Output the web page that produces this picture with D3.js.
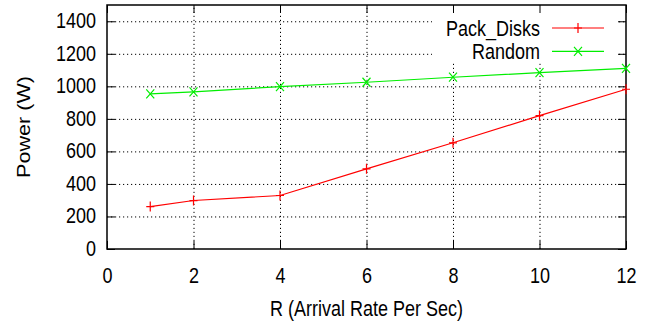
<!DOCTYPE html>
<html>
<head>
  <meta charset="utf-8">
  <title>Power vs Arrival Rate</title>
  <script src="https://d3js.org/d3.v7.min.js"></script>
  <style>
    body { margin: 0; background: #fff; }
    text { font-family: 'Liberation Sans', Arial, sans-serif; font-size: 18px; fill: #000; }
    .grid line { stroke: #000; stroke-width: 1; stroke-dasharray: 1.2, 2.8; }
    .grid path { display: none; }
    .axis line { stroke: #000; stroke-width: 1; }
    .axis path { display: none; }
  </style>
</head>
<body>
  <div id="chart"></div>
  <script>
    // data
    const rates = [1, 2, 4, 6, 8, 10, 12];
    const packDisks = [261, 298, 329, 493, 653, 820, 982];
    const random = [954, 966, 998, 1025, 1056, 1084, 1111];
    const xTicks = [0, 2, 4, 6, 8, 10, 12];
    const yTicks = [0, 200, 400, 600, 800, 1000, 1200, 1400];
    const seriesNames = ["Pack_Disks", "Random"];

    const W = 649, H = 324;
    const margin = { top: 5, right: 23, bottom: 75, left: 107 };
    const width = W - margin.left - margin.right,
      height = H - margin.top - margin.bottom;
    const stretch = 1.2;

    const svg = d3.select("#chart").append("svg")
      .attr("width", W).attr("height", H);

    const g = svg.append("g")
      .attr("transform", "translate(" + margin.left + "," + margin.top + ")");

    const x = d3.scaleLinear().domain([0, 12]).range([0, width]);
    const y = d3.scaleLinear().domain([0, 1500]).range([height, 0]);

    // dotted grid
    g.append("g").attr("class", "grid")
      .attr("transform", "translate(0," + height + ")")
      .call(d3.axisBottom(x).tickValues(xTicks.filter(d => d > 0 && d < 12))
        .tickSize(-height).tickFormat(""));
    g.append("g").attr("class", "grid")
      .call(d3.axisLeft(y).tickValues(yTicks.filter(d => d > 0))
        .tickSize(-width).tickFormat(""));

    // legend box hides grid
    g.append("rect")
      .attr("x", 325).attr("y", 1)
      .attr("width", 186).attr("height", 57)
      .attr("fill", "#fff");

    // ticks (inward on all four sides)
    const bottom = g.append("g").attr("class", "axis")
      .attr("transform", "translate(0," + height + ")")
      .call(d3.axisBottom(x).tickValues(xTicks).tickSizeInner(-8).tickSizeOuter(0).tickFormat(d3.format("d")));
    bottom.selectAll("text")
      .attr("y", 34 / stretch).attr("dy", null)
      .attr("transform", "scale(1," + stretch + ")");

    const left = g.append("g").attr("class", "axis")
      .call(d3.axisLeft(y).tickValues(yTicks).tickSizeInner(-8).tickSizeOuter(0).tickPadding(11)
        .tickFormat(d3.format("d")));
    left.selectAll("text")
      .attr("dy", "0.3em")
      .attr("transform", "scale(1," + stretch + ")");

    g.append("g").attr("class", "axis")
      .call(d3.axisTop(x).tickValues(xTicks).tickSizeInner(-8).tickSizeOuter(0).tickFormat(""));
    g.append("g").attr("class", "axis")
      .attr("transform", "translate(" + width + ",0)")
      .call(d3.axisRight(y).tickValues(yTicks).tickSizeInner(-8).tickSizeOuter(0).tickFormat(""));

    // border
    g.append("rect")
      .attr("width", width).attr("height", height)
      .attr("fill", "none").attr("stroke", "#000").attr("stroke-width", 1.5);

    // axis titles
    svg.append("g")
      .attr("transform", "translate(" + (margin.left + width / 2) + ",316) scale(1," + stretch + ")")
      .append("text").attr("text-anchor", "middle")
      .text("R (Arrival Rate Per Sec)");
    svg.append("g")
      .attr("transform", "translate(30,127) scale(1," + stretch + ") rotate(-90)")
      .append("text").attr("text-anchor", "middle")
      .text("Power (W)");

    const plusPath = "M-4,0H4M0,-5V5";
    const crossPath = "M-4,-4.5L4,4.5M-4,4.5L4,-4.5";
    const series = [
      { name: seriesNames[0], values: packDisks, color: "#ff0000", marker: plusPath },
      { name: seriesNames[1], values: random, color: "#00ee00", marker: crossPath }
    ];

    const line = d3.line().x(d => x(d[0])).y(d => y(d[1]));

    series.forEach(function (s) {
      const pts = rates.map((r, i) => [r, s.values[i]]);
      g.append("path").datum(pts)
        .attr("d", line)
        .attr("fill", "none").attr("stroke", s.color).attr("stroke-width", 1.2);
      g.selectAll(null).data(pts).enter().append("path")
        .attr("transform", d => "translate(" + x(d[0]) + "," + y(d[1]) + ")")
        .attr("d", s.marker)
        .attr("fill", "none").attr("stroke", s.color).attr("stroke-width", 1.2);
    });

    // legend
    const legend = svg.append("g").attr("transform", "translate(0,28)");
    series.forEach(function (s, i) {
      const row = legend.append("g").attr("transform", "translate(0," + (i * 23.4) + ")");
      row.append("g").attr("transform", "translate(540,0) scale(1," + stretch + ")")
        .append("text").attr("text-anchor", "end").attr("dy", "0.35em").text(s.name);
      row.append("line")
        .attr("x1", 552).attr("x2", 604)
        .attr("stroke", s.color).attr("stroke-width", 1.2);
      row.append("path")
        .attr("transform", "translate(578,0)")
        .attr("d", s.marker)
        .attr("fill", "none").attr("stroke", s.color).attr("stroke-width", 1.2);
    });
  </script>
</body>
</html>
